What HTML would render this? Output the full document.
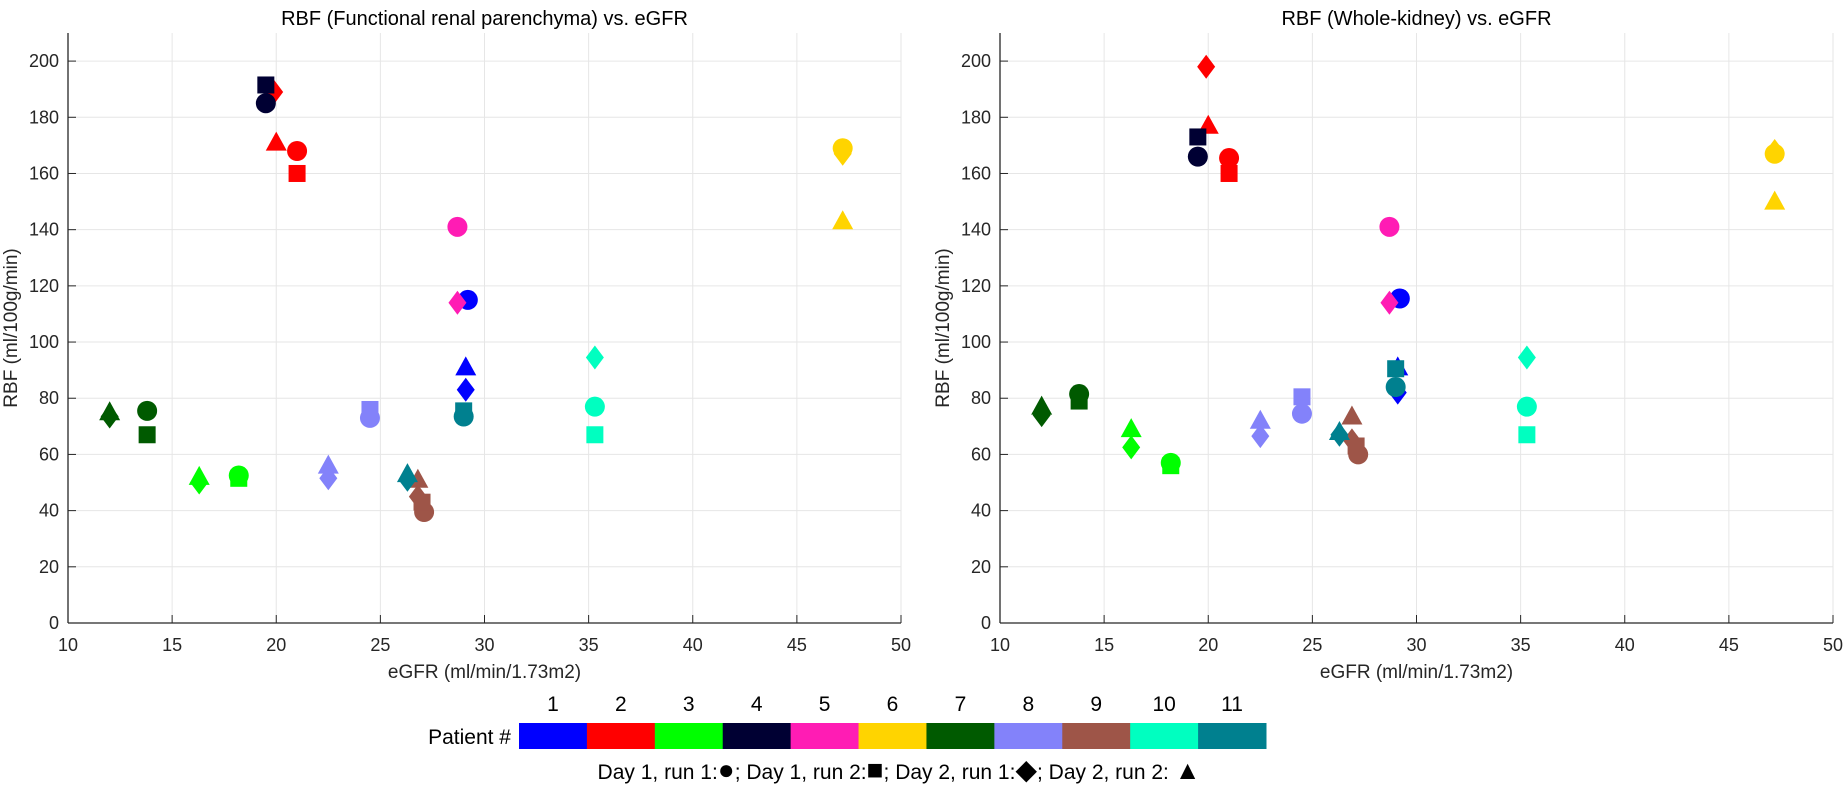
<!DOCTYPE html>
<html><head><meta charset="utf-8"><style>
body{margin:0;background:#fff;}
svg{display:block;font-family:"Liberation Sans",Arial,sans-serif;}
</style></head><body>
<svg id="fig" width="1848" height="792"></svg>
<script>
const colors=['#0000ff','#ff0000','#00ff00','#000033','#ff1cb4','#ffd400','#005a00','#8382fa','#9e5548','#00ffc0','#00808f'];
const patients=[1,2,3,4,5,6,7,8,9,10,11];
const shapes=['circle','square','diamond','triangle'];
// Left: [egfr, rbf] for circle, square, diamond, triangle per patient (null = hidden/not visible)
const leftData=[
 [[29.2,115],null,[29.1,83],[29.1,91]],
 [[21.0,168],[21.0,160],[19.9,189],[20.0,171]],
 [[18.2,52.5],[18.2,51.5],[16.3,50],[16.3,52]],
 [[19.5,185],[19.5,191.5],null,null],
 [[28.7,141],null,[28.7,114],null],
 [[47.2,169],null,[47.2,167],[47.2,143]],
 [[13.8,75.5],[13.8,67],[12.0,73.5],[12.0,75]],
 [[24.5,73],[24.5,76],[22.5,51.5],[22.5,56]],
 [[27.1,39.5],[27.0,43],[26.8,45],[26.8,51]],
 [[35.3,77],[35.3,67],[35.3,94.5],null],
 [[29.0,73.5],[29.0,75.5],[26.3,51],[26.3,53]]
];
const rightData=[
 [[29.2,115.5],null,[29.1,82],[29.1,91]],
 [[21.0,165.5],[21.0,160],[19.9,198],[20.0,177]],
 [[18.2,57],[18.2,56],[16.3,62.5],[16.3,69]],
 [[19.5,166],[19.5,173],null,null],
 [[28.7,141],null,[28.7,114],null],
 [[47.2,167],null,[47.2,168],[47.2,150]],
 [[13.8,81.5],[13.8,79],[12.0,74],[12.0,77]],
 [[24.5,74.5],[24.5,80.5],[22.5,66.5],[22.5,72]],
 [[27.2,60],[27.1,63],[26.9,65],[26.9,73.5]],
 [[35.3,77],[35.3,67],[35.3,94.5],null],
 [[29.0,84],[29.0,90.5],[26.3,67],[26.3,68]]
];
const xTicks=[10,15,20,25,30,35,40,45,50];
const yTicks=[0,20,40,60,80,100,120,140,160,180,200];
const titles=['RBF (Functional renal parenchyma) vs. eGFR','RBF (Whole-kidney) vs. eGFR'];

const NS='http://www.w3.org/2000/svg';
const svg=document.getElementById('fig');
function mk(tag,attrs,parent){const e=document.createElementNS(NS,tag);for(const k in attrs)e.setAttribute(k,attrs[k]);(parent||svg).appendChild(e);return e;}

function panel(idx,data,x0,x1){
  const yb=623,yt=33;
  const sx=v=>x0+(v-10)/(50-10)*(x1-x0);
  const sy=v=>yb-(v-0)/(210-0)*(yb-yt);
  const g=mk('g',{});
  
  
  xTicks.forEach(t=>{
    const l=mk('line',{x1:sx(t),x2:sx(t),y1:yt,y2:yb,stroke:'#e6e6e6','stroke-width':1},g);
    
    mk('line',{x1:sx(t),x2:sx(t),y1:yb,y2:yb-8,stroke:'#262626','stroke-width':1},g);
    const tx=mk('text',{x:sx(t),y:yb+28,'text-anchor':'middle','font-size':18,fill:'#262626'},g);
    tx.textContent=t;
  });
  yTicks.forEach(t=>{
    const l=mk('line',{x1:x0,x2:x1,y1:sy(t),y2:sy(t),stroke:'#e6e6e6','stroke-width':1},g);
    
    mk('line',{x1:x0,x2:x0+8,y1:sy(t),y2:sy(t),stroke:'#262626','stroke-width':1},g);
    const tx=mk('text',{x:x0-9,y:sy(t)+6,'text-anchor':'end','font-size':18,fill:'#262626'},g);
    tx.textContent=t;
  });
  mk('line',{x1:x0,x2:x0,y1:yt,y2:yb,stroke:'#262626','stroke-width':1.3},g);
  mk('line',{x1:x0,x2:x1,y1:yb,y2:yb,stroke:'#262626','stroke-width':1.3},g);
  const ti=mk('text',{x:(x0+x1)/2,y:25,'text-anchor':'middle','font-size':20,fill:'#000'},g);
  ti.textContent=titles[idx];
  const xl=mk('text',{x:(x0+x1)/2,y:678,'text-anchor':'middle','font-size':19,fill:'#262626'},g);
  xl.textContent='eGFR (ml/min/1.73m2)';
  const yl=mk('text',{x:0,y:0,'text-anchor':'middle','font-size':19,fill:'#262626',transform:`translate(${x0-51},${(yt+yb)/2}) rotate(-90)`},g);
  yl.textContent='RBF (ml/100g/min)';
  data.forEach((pd,p)=>{
    pd.forEach((pt,s)=>{
      if(!pt)return;
      const cx=sx(pt[0]),cy=sy(pt[1]),c=colors[p];let e;
      if(s===0)e=mk('circle',{cx,cy,r:10,fill:c},g);
      else if(s===1)e=mk('rect',{x:cx-8.5,y:cy-8.5,width:17,height:17,fill:c},g);
      else if(s===2)e=mk('polygon',{points:`${cx},${cy-12} ${cx+9},${cy} ${cx},${cy+12} ${cx-9},${cy}`,fill:c},g);
      else e=mk('polygon',{points:`${cx},${cy-11} ${cx+10.5},${cy+8} ${cx-10.5},${cy+8}`,fill:c},g);
      
      
    });
  });
}
panel(0,leftData,68,901);
panel(1,rightData,1000,1833);

// legend
const lg=mk('g',{});


const lx0=519,lw=(1266-519)/11;
const pl=mk('text',{x:511,y:744,'text-anchor':'end','font-size':21,fill:'#000'},lg);
pl.textContent='Patient #';
patients.forEach((n,i)=>{
  const r=mk('rect',{x:lx0+i*lw,y:723,width:lw+0.5,height:26,fill:colors[i]},lg);
  
  const t=mk('text',{x:lx0+i*lw+lw/2,y:711,'text-anchor':'middle','font-size':21,fill:'#000'},lg);
  t.textContent=n;
});
const st=mk('text',{x:899,y:779,'text-anchor':'middle','font-size':21,fill:'#000'},lg);
st.innerHTML='Day 1, run 1:<tspan font-size="28">\u25CF</tspan>; Day 1, run 2:<tspan font-size="28">\u25A0</tspan>; Day 2, run 1:<tspan font-size="28">\u25C6</tspan>; Day 2, run 2: <tspan font-size="26">\u25B2</tspan>';

</script>
</body></html>
